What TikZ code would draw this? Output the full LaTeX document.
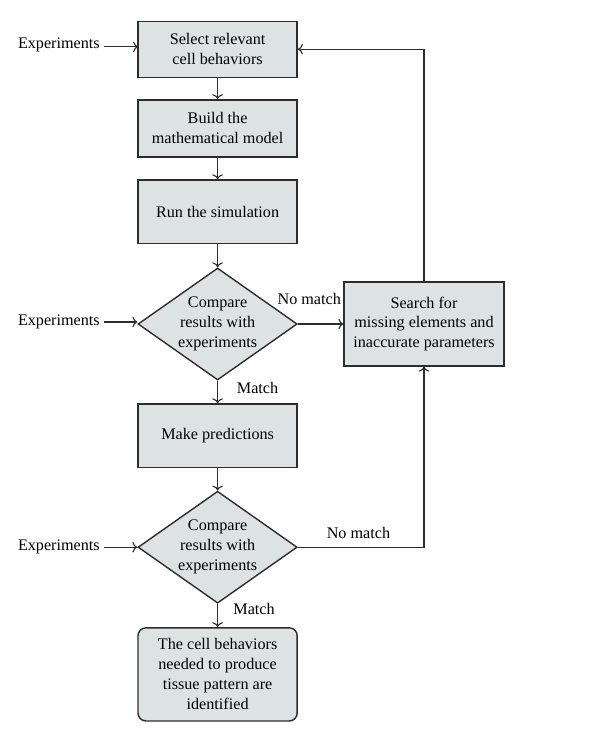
\documentclass[tikz,border=0pt]{standalone}
\usepackage{fontspec}
\setmainfont{Liberation Serif}
\usetikzlibrary{shapes.geometric,positioning,arrows.meta}

\definecolor{boxfill}{RGB}{221,227,227}
\definecolor{linegray}{RGB}{45,45,45}

\begin{document}
\begin{tikzpicture}[
    every node/.style={font=\fontsize{11.5pt}{14.2pt}\selectfont, text=black},
    stepbox/.style={rectangle, draw=linegray, line width=1pt, fill=boxfill, align=center, minimum width=3.98cm},
    testbox/.style={diamond, draw=linegray, line width=1pt, fill=boxfill, align=center, aspect=1.42, inner sep=0pt, minimum width=3.98cm, minimum height=2.8cm},
    endbox/.style={stepbox, rounded corners=0.2cm},
    link/.style={-{To[length=3.5pt, width=7.5pt]}, draw=linegray, line width=0.8pt}
  ]
    \useasboundingbox (0, 0) rectangle (15, -18.55);
    % Nodes
    \node (select) [stepbox, minimum height=1.4cm] at (5.44, -1.23) {Select relevant\\cell behaviors};
    \node (build) [stepbox, minimum height=1.43cm] at (5.44, -3.21) {Build the\\mathematical model};
    \node (run) [stepbox, minimum height=1.58cm] at (5.44, -5.29) {Run the simulation};
    \node (cmpA) [testbox] at (5.44, -8.1) {Compare\\results with\\experiments};
    \node (predict) [stepbox, minimum height=1.58cm] at (5.44, -10.89) {Make predictions};
    \node (cmpB) [testbox] at (5.44, -13.68) {Compare\\results with\\experiments};
    \node (found) [endbox, minimum height=2.33cm] at (5.44, -16.86) {The cell behaviors\\needed to produce\\tissue pattern are\\identified};
    \node (search) [stepbox, minimum width=4cm, minimum height=2.1cm] at (10.6, -8.1) {Search for\\missing elements and\\inaccurate parameters};
    % Inputs
    \node (expA) [anchor=east, inner sep=0.1cm] at (2.6, -1.12) {Experiments};
    \node (expB) [anchor=east, inner sep=0.1cm] at (2.6, -8.05) {Experiments};
    \node (expC) [anchor=east, inner sep=0.1cm] at (2.6, -13.68) {Experiments};
    % Arrows
    \draw[link] (expA.east) ++(0, -0.05) -- ++(0.85, 0);
    \draw[link] (expB.east) -- (expB.east -| cmpA.west);
    \draw[link] (expC.east) -- (cmpB.west);
    \draw[link] (select) -- (build);
    \draw[link] (build) -- (run);
    \draw[link] (run) -- (cmpA);
    \draw[link] (cmpA) -- node[right=10pt, pos=0.3] {Match} (predict);
    \draw[link] (predict) -- (cmpB);
    \draw[link] (cmpB) -- node[right=7.5pt, pos=0.2] {Match} (found);
    \draw[link] (cmpA.east) -- node[above=10pt, pos=0.25] {No match} (search.west);
    \draw[link] (cmpB.east) -| node[above=2pt, pos=0.24] {No match} (search.south);
    \draw[link] (search.north) |- (select.east);
  \end{tikzpicture}
\end{document}
